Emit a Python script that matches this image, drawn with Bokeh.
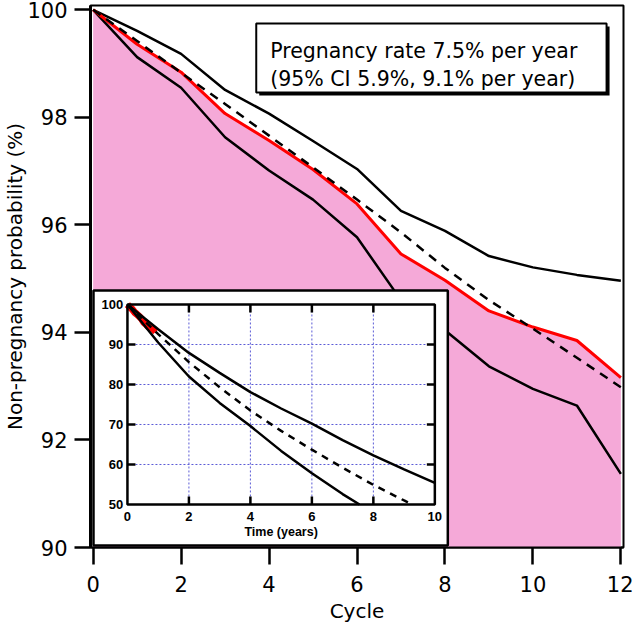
from bokeh.plotting import figure
from bokeh.models import Range1d, FixedTicker
from bokeh.embed import file_html
from bokeh.resources import INLINE
from bokeh.core.properties import value

# ---------------- data ----------------
cycles = [0, 1, 2, 3, 4, 5, 6, 7, 8, 9, 10, 11, 12]
observed = [100, 99.36, 98.84, 98.07, 97.57, 97.03, 96.39, 95.46, 94.97, 94.40, 94.10, 93.85, 93.16]
model = [100, 99.42, 98.83, 98.25, 97.66, 97.07, 96.47, 95.86, 95.20, 94.60, 94.07, 93.53, 92.98]
upper_ci = [100, 99.61, 99.18, 98.51, 98.07, 97.56, 97.04, 96.26, 95.89, 95.42, 95.21, 95.07, 94.96]
lower_ci = [100, 99.12, 98.55, 97.63, 97.01, 96.47, 95.77, 94.60, 94.04, 93.37, 92.95, 92.64, 91.37]

x_ticks = [0, 2, 4, 6, 8, 10, 12]
y_ticks = [90, 92, 94, 96, 98, 100]

# inset (time in years)
obs_years = [0.0, 0.077, 0.153, 0.230, 0.307, 0.383, 0.460, 0.537, 0.613, 0.690, 0.767, 0.843, 0.920]
inset_up_t = [0, 1, 2, 3, 4, 5, 6, 7, 8, 9, 10]
inset_up = [100, 93.8, 87.9, 82.9, 78.1, 74.0, 70.2, 66.1, 62.3, 58.8, 55.4]
inset_mid_t = [0, 1, 2, 3, 4, 5, 6, 7, 8, 9, 9.26]
inset_mid = [100, 92.6, 85.6, 79.3, 73.5, 68.4, 63.7, 59.2, 54.9, 51.0, 50.0]
inset_lo_t = [0, 1, 2, 3, 4, 5, 6, 7, 7.55]
inset_lo = [100, 90.5, 82.0, 75.4, 69.6, 63.4, 57.8, 52.6, 50.0]
inset_x_ticks = [0, 2, 4, 6, 8, 10]
inset_y_ticks = [50, 60, 70, 80, 90, 100]

box_line1 = "Pregnancy rate 7.5% per year"
box_line2 = "(95% CI 5.9%, 9.1% per year)"

# ---------------- figure ----------------
XR = (-0.06, 12.06)
YR = (90, 100.08)
p = figure(width=633, height=629, output_backend="svg", toolbar_location=None,
           title=None, x_range=Range1d(*XR), y_range=Range1d(*YR),
           min_border_left=89, min_border_right=10, min_border_top=5, min_border_bottom=82)
p.background_fill_color = "white"
p.border_fill_color = "white"
p.outline_line_color = "black"
p.outline_line_width = 2
p.xgrid.visible = False
p.ygrid.visible = False

FONT = "DejaVu Sans"
for ax in (p.xaxis[0], p.yaxis[0]):
    ax.minor_tick_line_color = None
    ax.major_tick_in = 0
    ax.major_tick_line_width = 2.5
    ax.major_tick_line_color = "black"
    ax.axis_line_color = "black"
    ax.major_label_text_font = FONT
    ax.major_label_text_font_size = "21px"
    ax.major_label_text_color = "black"
    ax.axis_label_text_font = FONT
    ax.axis_label_text_font_size = "20px"
    ax.axis_label_text_font_style = "normal"
    ax.axis_label_text_color = "black"
p.xaxis.ticker = FixedTicker(ticks=x_ticks)
p.yaxis.ticker = FixedTicker(ticks=y_ticks)
p.xaxis.major_tick_out = 17
p.xaxis.major_label_standoff = 11
p.xaxis.axis_line_width = 2
p.xaxis.axis_label = "Cycle"
p.xaxis.axis_label_standoff = 4
p.yaxis.major_tick_out = 16
p.yaxis.major_label_standoff = 7
p.yaxis.axis_line_width = 3
p.yaxis.axis_label = "Non-pregnancy probability (%)"
p.yaxis.axis_label_standoff = -3

# main curves
p.varea(x=cycles, y1=90, y2=observed, fill_color="#f5a9d8")
p.line(cycles, upper_ci, line_color="black", line_width=2.5)
p.line(cycles, lower_ci, line_color="black", line_width=2.5)
p.line(cycles, observed, line_color="#ff0000", line_width=3)
p.line(cycles, model, line_color="black", line_width=2.5, line_dash="9 7")

# ---------------- inset placement (main data coords) ----------------
x0m, x1m = 0.780, 7.770      # inset t=0 and t=10
y0m, y1m = 90.800, 94.519    # inset 50 and 100
sx = 10.0 / (x1m - x0m)
sy = 50.0 / (y1m - y0m)
p.extra_x_ranges = {"ix": Range1d((XR[0] - x0m) * sx, (XR[1] - x0m) * sx)}
p.extra_y_ranges = {"iy": Range1d(50 + (YR[0] - y0m) * sy, 50 + (YR[1] - y0m) * sy)}
I = dict(x_range_name="ix", y_range_name="iy")

# inset outer white box
p.quad(left=[0.008], right=[8.065], bottom=[90.037], top=[94.780],
       fill_color="white", line_color="black", line_width=2.5)

# inset grid
gx = inset_x_ticks[1:-1]
gy = inset_y_ticks[1:-1]
p.segment(x0=gx, y0=[50] * len(gx), x1=gx, y1=[100] * len(gx),
          line_color="#5b5bd6", line_width=1, line_dash="2 2", **I)
p.segment(x0=[0] * len(gy), y0=gy, x1=[10] * len(gy), y1=gy,
          line_color="#5b5bd6", line_width=1, line_dash="2 2", **I)

# inset curves
p.line(obs_years, observed, line_color="#ff0000", line_width=7, **I)
p.line(inset_up_t, inset_up, line_color="black", line_width=2.5, **I)
p.line(inset_lo_t, inset_lo, line_color="black", line_width=2.5, **I)
p.line(inset_mid_t, inset_mid, line_color="black", line_width=2.5, line_dash="7 6", **I)

# inset frame
p.quad(left=[0], right=[10], bottom=[50], top=[100], fill_color=None,
       line_color="black", line_width=2.5, **I)
# inset ticks (inside)
tx, ty = 0.26, 2.0
p.segment(x0=gx, y0=[100] * len(gx), x1=gx, y1=[100 - ty] * len(gx), line_color="black", line_width=2.5, **I)
p.segment(x0=gx, y0=[50] * len(gx), x1=gx, y1=[50 + ty] * len(gx), line_color="black", line_width=2.5, **I)
p.segment(x0=[0] * len(gy), y0=gy, x1=[tx] * len(gy), y1=gy, line_color="black", line_width=2.5, **I)
p.segment(x0=[10] * len(gy), y0=gy, x1=[10 - tx] * len(gy), y1=gy, line_color="black", line_width=2.5, **I)

# inset tick labels
IFONT = value("Liberation Sans")
p.text(x=[-0.14] * len(inset_y_ticks), y=inset_y_ticks, text=[str(v) for v in inset_y_ticks],
       text_font=IFONT, text_font_style="bold", text_font_size="13px",
       text_align="right", text_baseline="middle", text_color="black", **I)
p.text(x=inset_x_ticks, y=[48.2] * len(inset_x_ticks), text=[str(v) for v in inset_x_ticks],
       text_font=IFONT, text_font_style="bold", text_font_size="13px",
       text_align="center", text_baseline="top", text_color="black", **I)
p.text(x=[5], y=[43], text=["Time (years)"], text_font=IFONT, text_font_style="bold",
       text_font_size="12.5px", text_align="center", text_baseline="middle", text_color="black", **I)

# ---------------- annotation box ----------------
p.quad(left=[3.777], right=[11.743], bottom=[98.406], top=[99.689], fill_color="black", line_color=None)
p.quad(left=[3.709], right=[11.675], bottom=[98.462], top=[99.745], fill_color="white",
       line_color="black", line_width=2)
p.text(x=[4.026, 4.026], y=[99.243, 98.717], text=[box_line1, box_line2],
       text_font=value(FONT), text_font_size="20.5px", text_align="left",
       text_baseline="alphabetic", text_color="black")

open("out.html", "w").write(file_html(p, INLINE))
